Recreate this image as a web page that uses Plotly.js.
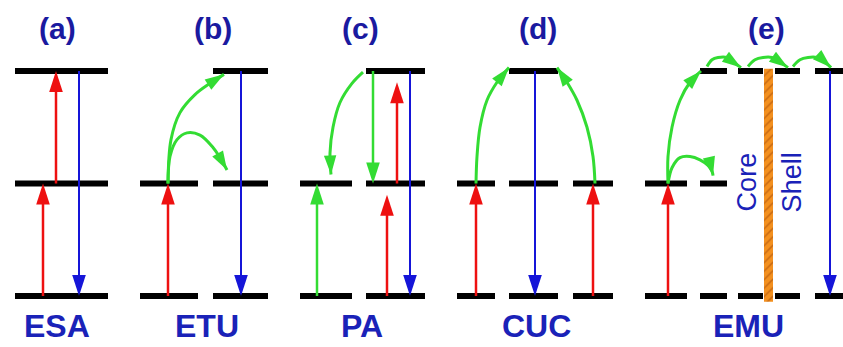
<!DOCTYPE html>
<html>
<head>
<meta charset="utf-8">
<script src="https://cdn.plot.ly/plotly-3.0.1.min.js"></script>
<style>html,body{margin:0;padding:0;background:#fff;}#chart{width:843px;height:347px;}</style>
</head>
<body>
<div id="chart"></div>
<script>
// ---------------- DATA ----------------
// energy levels (ground, intermediate, excited)
var levelE = [0, 1, 2];

// panels
var panelLabels = ['(a)', '(b)', '(c)', '(d)', '(e)'];
var mechanismNames = ['ESA', 'ETU', 'PA', 'CUC', 'EMU'];
var panelCenterX = [57, 207, 362, 536, 748];
var panelLabelX = [57, 213, 360, 538, 766];

// level segments: start x, end x, level
var segX0 = [15, 15, 15,   140, 140, 213, 213, 213,   300, 300, 366, 366, 366,
             457, 457, 509, 509, 509, 573, 573,
             645, 645, 700, 700, 700, 738, 738, 775, 775, 815, 815];
var segX1 = [108, 108, 108, 198, 198, 268, 268, 268,  352, 352, 425, 425, 425,
             495, 495, 558, 558, 558, 613, 613,
             687, 687, 727, 727, 727, 763, 763, 800, 800, 843, 843];
var segLevel = [0, 1, 2,   0, 1, 0, 1, 2,   0, 1, 0, 1, 2,
                0, 1, 0, 1, 2, 0, 1,
                0, 1, 0, 1, 2, 0, 2, 0, 2, 0, 2];

// straight transitions: x, from level, to level, kind
var arrX    = [43, 56, 79,   168, 241,   317, 373, 387, 397, 410,   476, 593, 535,   668, 830];
var arrFrom = [0, 1, 2,      0, 2,       0, 2, 0, 1, 2,             0, 0, 2,         0, 2];
var arrTo   = [1, 2, 0,      1, 0,       1, 1, 0.9, 1.9, 0,         1, 1, 0,         1, 0];
var arrKind = ['pump', 'pump', 'emit', 'pump', 'emit', 'transfer', 'transfer', 'pump', 'pump', 'emit',
               'pump', 'pump', 'emit', 'pump', 'emit'];

// curved energy-transfer paths
var curveX = [
  [168, 171, 180, 195, 210, 224],
  [168, 170, 177, 187, 200, 213, 220, 227],
  [363, 352, 340, 333, 330, 331],
  [476, 477, 480, 487, 497, 509],
  [595, 593, 587, 577, 567, 557],
  [668, 668, 672, 680, 690, 701],
  [668, 672, 680, 690, 700, 708, 712, 713],
  [707, 712, 718, 727, 733, 741],
  [748, 755, 763, 772, 780, 788],
  [793, 800, 808, 817, 825, 831]
];
var curveE = [
  [1.00, 1.39, 1.63, 1.79, 1.89, 1.97],
  [1.00, 1.24, 1.39, 1.45, 1.43, 1.32, 1.23, 1.12],
  [1.99, 1.89, 1.72, 1.50, 1.27, 1.08],
  [1.00, 1.24, 1.50, 1.74, 1.90, 2.03],
  [1.00, 1.24, 1.50, 1.74, 1.90, 2.03],
  [1.00, 1.24, 1.50, 1.74, 1.90, 2.00],
  [1.00, 1.14, 1.23, 1.24, 1.21, 1.16, 1.11, 1.07],
  [2.04, 2.10, 2.12, 2.12, 2.08, 2.03],
  [2.04, 2.10, 2.12, 2.12, 2.08, 2.03],
  [2.04, 2.10, 2.12, 2.12, 2.08, 2.03]
];

// core/shell interface
var interfaceX = 768.5;
var interfaceE = [-0.05, 2.02];
var regionNames = ['Core', 'Shell'];
var regionX = [747, 792];

// ---------------- STYLE ----------------
var kindColor = {pump: '#ee1010', emit: '#1515d8', transfer: '#33dc33'};
var textBlue = '#1a22b8';
var labelBlue = '#1a1aa0';
var font = 'Liberation Sans, Arial, sans-serif';

var traces = [];

// level lines
var lx = [], ly = [];
for (var i = 0; i < segX0.length; i++) {
  lx.push(segX0[i], segX1[i], null);
  ly.push(levelE[segLevel[i]], levelE[segLevel[i]], null);
}
traces.push({type: 'scatter', mode: 'lines', x: lx, y: ly,
  line: {color: '#000', width: 6}, hoverinfo: 'skip'});

// interface bar (hatched)
var hw = 4.5;
traces.push({type: 'scatter', mode: 'lines',
  x: [interfaceX - hw, interfaceX + hw, interfaceX + hw, interfaceX - hw, interfaceX - hw],
  y: [interfaceE[0], interfaceE[0], interfaceE[1], interfaceE[1], interfaceE[0]],
  fill: 'toself', fillcolor: '#f3901f',
  fillpattern: {shape: '/', fgcolor: '#c96a12', bgcolor: '#f3901f', size: 6, solidity: 0.25},
  line: {width: 0, color: '#f3901f'}, hoverinfo: 'skip'});

// straight arrows
for (var j = 0; j < arrX.length; j++) {
  var c = kindColor[arrKind[j]];
  traces.push({type: 'scatter', mode: 'lines+markers',
    x: [arrX[j], arrX[j]], y: [levelE[0] + arrFrom[j], levelE[0] + arrTo[j]],
    line: {color: c, width: arrKind[j] === 'emit' ? 2 : 2.5},
    marker: {symbol: 'arrow', size: [0, 22], angleref: 'previous', color: c, opacity: 1,
             line: {width: 0}},
    hoverinfo: 'skip'});
}

// curved arrows
for (var k = 0; k < curveX.length; k++) {
  var n = curveX[k].length;
  var sizes = [];
  for (var m = 0; m < n; m++) sizes.push(m === n - 1 ? 20 : 0);
  traces.push({type: 'scatter', mode: 'lines+markers',
    x: curveX[k], y: curveE[k],
    line: {color: kindColor.transfer, width: 3, shape: 'spline', smoothing: 1},
    marker: {symbol: 'arrow', size: sizes, angleref: 'previous', color: kindColor.transfer, opacity: 1,
             line: {width: 0}},
    hoverinfo: 'skip'});
}

var annotations = [];
for (var p = 0; p < panelLabels.length; p++) {
  annotations.push({x: panelLabelX[p], y: 2.38, xref: 'x', yref: 'y', text: '<b>' + panelLabels[p] + '</b>',
    showarrow: false, font: {family: font, size: 30, color: labelBlue}, xanchor: 'center', yanchor: 'middle'});
  annotations.push({x: panelCenterX[p], y: -0.27, xref: 'x', yref: 'y', text: '<b>' + mechanismNames[p] + '</b>',
    showarrow: false, font: {family: font, size: 32, color: textBlue}, xanchor: 'center', yanchor: 'middle'});
}
for (var r = 0; r < regionNames.length; r++) {
  annotations.push({x: regionX[r], y: 1.01, xref: 'x', yref: 'y', text: regionNames[r], textangle: -90,
    showarrow: false, font: {family: font, size: 27, color: textBlue}, xanchor: 'center', yanchor: 'middle'});
}

var layout = {
  width: 843, height: 347,
  margin: {l: 0, r: 0, t: 0, b: 0},
  paper_bgcolor: '#fff', plot_bgcolor: '#fff',
  showlegend: false,
  xaxis: {range: [0, 843], visible: false, fixedrange: true},
  yaxis: {range: [-0.4533, 2.6311], visible: false, fixedrange: true},
  annotations: annotations
};

Plotly.newPlot('chart', traces, layout, {staticPlot: true, displayModeBar: false});
</script>
</body>
</html>
